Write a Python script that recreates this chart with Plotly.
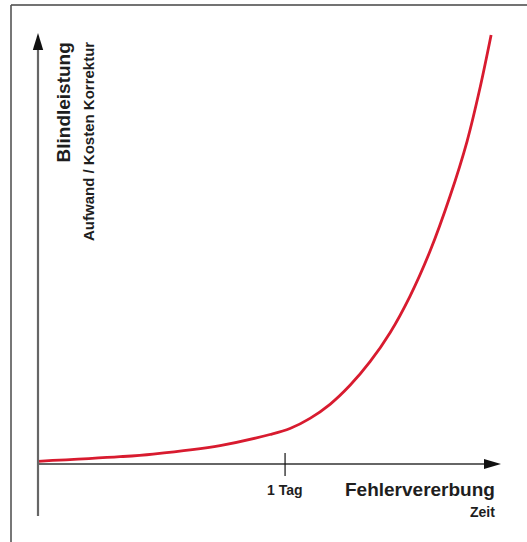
import plotly.graph_objects as go

# Data (x in "days", y in relative effort units 0..100)
zeit = [0.0, 0.332, 0.466, 0.737, 0.939, 1.020, 1.101, 1.182, 1.263, 1.344,
        1.425, 1.506, 1.587, 1.668, 1.737, 1.789, 1.834]
aufwand = [0.63, 1.70, 2.33, 4.31, 6.88, 8.28, 10.65, 13.92, 18.35, 23.85,
           30.61, 39.16, 49.65, 62.47, 75.29, 87.65, 100.0]
tick_pos = [1.0]
tick_text = ["1 Tag"]

X_MAX = 1.870
Y_MIN, Y_MAX = -13.05, 101.17

W, H = 527, 542
ML, MR, MT, MB = 38, 27, 30, 22
PW, PH = W - ML - MR, H - MT - MB

def px(p):
    return (p - ML) / PW

def py(p):
    return (H - MB - p) / PH

RED = "#d81b2f"
AXIS = "#666666"
TXT = "#1e1e1e"
FONT = "Liberation Sans, Arial, sans-serif"

fig = go.Figure()
fig.add_trace(go.Scatter(
    x=zeit, y=aufwand, mode="lines",
    line=dict(color=RED, width=2.8, shape="spline", smoothing=1.0),
    hoverinfo="skip", showlegend=False,
))

shapes = []
# frame (top + left)
shapes.append(dict(type="line", xref="paper", yref="paper",
                   x0=px(11), x1=px(W + 5), y0=py(5), y1=py(5),
                   line=dict(color="#444444", width=1.6)))
shapes.append(dict(type="line", xref="paper", yref="paper",
                   x0=px(11), x1=px(11), y0=py(5), y1=py(H + 5),
                   line=dict(color="#555555", width=1.6)))
# y axis
shapes.append(dict(type="line", xref="paper", yref="paper",
                   x0=0, x1=0, y0=py(516), y1=py(48),
                   line=dict(color=AXIS, width=2.2)))
# x axis
shapes.append(dict(type="line", xref="paper", yref="y",
                   x0=0, x1=px(486), y0=0, y1=0,
                   line=dict(color=AXIS, width=2.2)))
# arrow heads
hx = 5.2 / PW
shapes.append(dict(type="path", xref="paper", yref="paper",
                   path=f"M {-hx} {py(50)} L {hx} {py(50)} L 0 {py(33)} Z",
                   fillcolor="#111111", line=dict(width=0)))
shapes.append(dict(type="path", xref="paper", yref="paper",
                   path=f"M {px(484)} {py(459)} L {px(484)} {py(469)} L {px(501)} {py(464)} Z",
                   fillcolor="#111111", line=dict(width=0)))
# tick
for t in tick_pos:
    shapes.append(dict(type="line", xref="x", yref="paper",
                       x0=t, x1=t, y0=py(453), y1=py(476),
                       line=dict(color="#111111", width=1.2)))

annotations = []
for t, lab in zip(tick_pos, tick_text):
    annotations.append(dict(x=t, xref="x", y=py(489.5), yref="paper",
                            text=f"<b>{lab}</b>", showarrow=False,
                            xanchor="center", yanchor="middle",
                            font=dict(family=FONT, size=14, color=TXT)))
annotations += [
    dict(x=px(497), y=py(489), xref="paper", yref="paper",
         text="<b>Fehlervererbung</b>", showarrow=False,
         xanchor="right", yanchor="middle",
         font=dict(family=FONT, size=19, color=TXT)),
    dict(x=px(497), y=py(511.5), xref="paper", yref="paper",
         text="<b>Zeit</b>", showarrow=False,
         xanchor="right", yanchor="middle",
         font=dict(family=FONT, size=14, color=TXT)),
    dict(x=px(63), y=py(102.5), xref="paper", yref="paper",
         text="<b>Blindleistung</b>", showarrow=False, textangle=-90,
         xanchor="center", yanchor="middle",
         font=dict(family=FONT, size=19, color=TXT)),
    dict(x=px(88.5), y=py(141.5), xref="paper", yref="paper",
         text="<b>Aufwand / Kosten Korrektur</b>", showarrow=False, textangle=-90,
         xanchor="center", yanchor="middle",
         font=dict(family=FONT, size=15, color=TXT)),
]

fig.update_layout(
    width=W, height=H,
    margin=dict(l=ML, r=MR, t=MT, b=MB, pad=0),
    paper_bgcolor="white", plot_bgcolor="white",
    xaxis=dict(range=[0, X_MAX], visible=False, fixedrange=True),
    yaxis=dict(range=[Y_MIN, Y_MAX], visible=False, fixedrange=True),
    shapes=shapes, annotations=annotations,
    showlegend=False,
)

fig.write_html(
    "out.html",
    config={"displayModeBar": False},
    post_script="document.body.style.margin='0';document.body.style.overflow='hidden';",
)
